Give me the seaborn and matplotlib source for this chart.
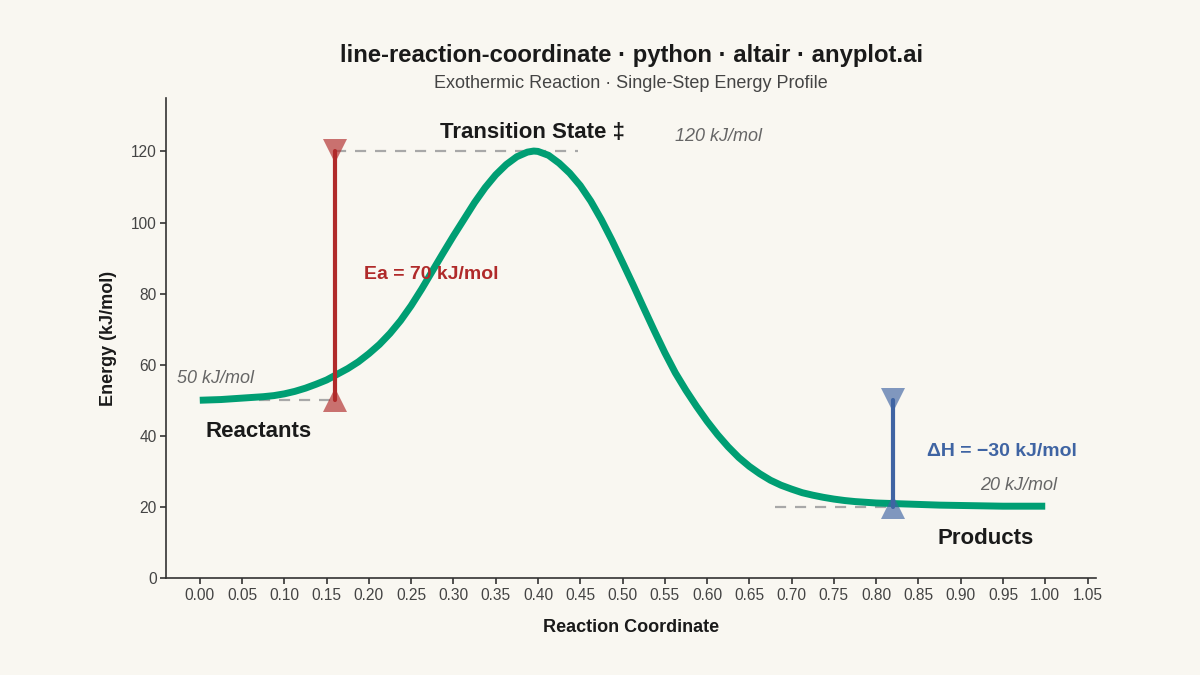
import matplotlib
matplotlib.use("Agg")
import matplotlib.pyplot as plt
import pandas as pd
import seaborn as sns

# energy profile (reaction coordinate vs kJ/mol)
coord = [0.0000, 0.0125, 0.0250, 0.0375, 0.0500, 0.0625, 0.0750, 0.0875, 0.1000, 0.1125,
         0.1250, 0.1375, 0.1500, 0.1625, 0.1750, 0.1875, 0.2000, 0.2125, 0.2250, 0.2375,
         0.2500, 0.2625, 0.2750, 0.2875, 0.3000, 0.3125, 0.3250, 0.3375, 0.3500, 0.3625,
         0.3750, 0.3875, 0.3950, 0.4000, 0.4125, 0.4250, 0.4375, 0.4500, 0.4625, 0.4750,
         0.4875, 0.5000, 0.5125, 0.5250, 0.5375, 0.5500, 0.5625, 0.5750, 0.5875, 0.6000,
         0.6125, 0.6250, 0.6375, 0.6500, 0.6625, 0.6750, 0.6875, 0.7000, 0.7125, 0.7250,
         0.7375, 0.7500, 0.7625, 0.7750, 0.8000, 0.8250, 0.8500, 0.8750, 0.9000, 0.9250,
         0.9500, 0.9750, 1.0000]
energy = [50.0, 50.1, 50.2, 50.4, 50.6, 50.8, 51.0, 51.3, 51.8, 52.5,
          53.4, 54.5, 55.7, 57.3, 58.9, 60.8, 63.1, 65.7, 68.8, 72.4,
          76.6, 81.3, 86.3, 91.3, 96.2, 100.9, 105.6, 109.8, 113.4, 116.3,
          118.5, 119.8, 120.1, 120.0, 118.9, 116.7, 113.9, 110.4, 106.0, 100.8,
          95.0, 88.8, 82.5, 76.0, 69.6, 63.4, 57.7, 52.8, 48.3, 44.1,
          40.3, 36.9, 33.9, 31.4, 29.3, 27.5, 26.1, 25.0, 24.0, 23.3,
          22.7, 22.2, 21.8, 21.5, 21.1, 20.9, 20.7, 20.5, 20.4, 20.3,
          20.2, 20.2, 20.2]

reactant_e = 50
ts_e = 120
product_e = 20
ea_x = 0.16
dh_x = 0.82
x_ticks = [round(0.05 * i, 2) for i in range(22)]
y_ticks = [0, 20, 40, 60, 80, 100, 120]

bg = "#F9F7F1"
green = "#009E73"
red = "#B02A2A"
blue = "#3F64A3"

sns.set_theme(style="ticks")
plt.rcParams["font.family"] = ["Liberation Sans", "DejaVu Sans"]

fig = plt.figure(figsize=(12, 6.75), dpi=100, facecolor=bg)
ax = fig.add_axes([0.1383, 0.1437, 0.775, 0.711])
ax.set_facecolor(bg)

# dashed reference levels
dash = dict(color="#A8A8A8", lw=1.6, ls=(0, (5, 4)))
ax.plot([0.07, ea_x], [reactant_e, reactant_e], **dash)
ax.plot([ea_x, 0.447], [ts_e, ts_e], **dash)
ax.plot([0.68, dh_x], [product_e, product_e], **dash)

df = pd.DataFrame({"coord": coord, "energy": energy})
sns.lineplot(data=df, x="coord", y="energy", color=green, lw=5, ax=ax,
             solid_capstyle="butt", solid_joinstyle="round", zorder=3)

# activation energy bar
ax.plot([ea_x, ea_x], [reactant_e, ts_e], color=red, lw=3, zorder=4)
ax.plot([ea_x], [ts_e], marker="v", ms=17, color=red, alpha=0.65, mew=0, zorder=4)
ax.plot([ea_x], [reactant_e], marker="^", ms=17, color=red, alpha=0.65, mew=0, zorder=4)
ax.text(0.194, 85.5, "Ea = 70 kJ/mol", color=red, fontsize=14, fontweight="bold",
        ha="left", va="center", zorder=5)

# enthalpy bar
ax.plot([dh_x, dh_x], [product_e, reactant_e], color=blue, lw=3, zorder=4)
ax.plot([dh_x], [reactant_e], marker="v", ms=17, color=blue, alpha=0.65, mew=0, zorder=4)
ax.plot([dh_x], [product_e], marker="^", ms=17, color=blue, alpha=0.65, mew=0, zorder=4)
ax.text(0.86, 35.5, "ΔH = \u221230 kJ/mol", color=blue, fontsize=14, fontweight="bold",
        ha="left", va="center", zorder=5)

# state labels
ax.text(0.394, 125.4, "Transition State \u2021", fontsize=16, fontweight="bold",
        color="#1a1a1a", ha="center", va="center")
ax.text(0.614, 124.2, "120 kJ/mol", fontsize=13, style="italic", color="#666666",
        ha="center", va="center")
ax.text(0.069, 41.3, "Reactants", fontsize=16, fontweight="bold", color="#1a1a1a",
        ha="center", va="center")
ax.text(0.019, 56.2, "50 kJ/mol", fontsize=13, style="italic", color="#666666",
        ha="center", va="center")
ax.text(0.929, 11.2, "Products", fontsize=16, fontweight="bold", color="#1a1a1a",
        ha="center", va="center")
ax.text(0.969, 26.1, "20 kJ/mol", fontsize=13, style="italic", color="#666666",
        ha="center", va="center")

ax.set_xlim(-0.04, 1.06)
ax.set_ylim(0, 135)
ax.set_xticks(x_ticks)
ax.set_xticklabels([f"{t:.2f}" for t in x_ticks])
ax.set_yticks(y_ticks)
ax.tick_params(axis="both", labelsize=11.2, colors="#333333", labelcolor="#444444",
               length=4.5, width=1.2)
ax.tick_params(axis="x", pad=3)
ax.tick_params(axis="y", pad=2)
for side in ["top", "right"]:
    ax.spines[side].set_visible(False)
for side in ["left", "bottom"]:
    ax.spines[side].set_color("#333333")
    ax.spines[side].set_linewidth(1.2)

ax.set_xlabel("Reaction Coordinate", fontsize=13, fontweight="bold", color="#1a1a1a", labelpad=11.5)
ax.set_ylabel("Energy (kJ/mol)", fontsize=13, fontweight="bold", color="#1a1a1a", labelpad=10)

fig.text(0.526, 0.918, "line-reaction-coordinate \u00b7 python \u00b7 altair \u00b7 anyplot.ai",
         fontsize=17.2, fontweight="bold", color="#1a1a1a", ha="center", va="center")
fig.text(0.526, 0.876, "Exothermic Reaction \u00b7 Single-Step Energy Profile",
         fontsize=13, color="#444444", ha="center", va="center")

fig.savefig("out.png", dpi=100, facecolor=bg)
